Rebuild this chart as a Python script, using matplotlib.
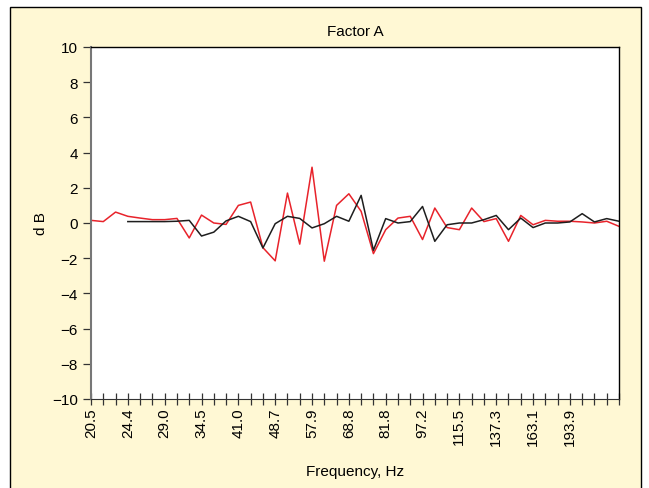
import matplotlib
matplotlib.use("Agg")
import matplotlib.pyplot as plt
from matplotlib.patches import Rectangle

plt.rcParams['font.family'] = ['Liberation Sans', 'DejaVu Sans']

# x labels shown every third band (1/12-octave bands, 44 bands)
freq_labels = ["20.5", "24.4", "29.0", "34.5", "41.0", "48.7", "57.9",
               "68.8", "81.8", "97.2", "115.5", "137.3", "163.1", "193.9"]
n_bands = 44

red_vals = [0.15, 0.08, 0.62, 0.38, 0.28, 0.19, 0.19, 0.26, -0.85, 0.45,
            0.0, -0.08, 1.0, 1.19, -1.4, -2.15, 1.7, -1.2, 3.17, -2.17,
            1.0, 1.66, 0.66, -1.74, -0.38, 0.28, 0.38, -0.94, 0.85, -0.26,
            -0.38, 0.85, 0.08, 0.25, -1.04, 0.43, -0.1, 0.15, 0.1, 0.1,
            0.06, 0.0, 0.1, -0.19]
black_start = 3
black_vals = [0.08, 0.08, 0.08, 0.08, 0.1, 0.15, -0.74, -0.52,
              0.12, 0.38, 0.08, -1.42, -0.04, 0.38, 0.26, -0.28, -0.04,
              0.38, 0.1, 1.57, -1.55, 0.25, 0.0, 0.08, 0.94, -1.04, -0.1,
              0.0, 0.0, 0.19, 0.43, -0.38, 0.28, -0.26, 0.0, 0.0, 0.06,
              0.53, 0.06, 0.25, 0.1]

cream = '#FFF8D4'
fig = plt.figure(figsize=(6.49, 4.89), dpi=100)
fig.patch.set_facecolor('white')
fig.patches.append(Rectangle((10/649, -0.02), 631/649, (489-8)/489 + 0.02,
                             transform=fig.transFigure, facecolor=cream,
                             edgecolor='black', lw=1.0, zorder=-10))

ax = fig.add_axes([91/649, (489-400)/489, 528/649, 352/489])
ax.set_facecolor('white')

xr = list(range(n_bands))
xb = list(range(black_start, black_start + len(black_vals)))
ax.plot(xr, red_vals, color='#E8232B', lw=1.1)
ax.plot(xb, black_vals, color='#1E1E1E', lw=1.1)

ax.set_xlim(0, n_bands - 1)
ax.set_ylim(-10, 10)
ax.set_yticks(range(-10, 11, 2))
ax.set_yticklabels([str(v).replace('-', '\u2212') for v in range(-10, 11, 2)])
ax.set_xticks(range(n_bands))
labels = [''] * n_bands
for k, lab in enumerate(freq_labels):
    labels[3 * k] = lab
ax.set_xticklabels(labels, rotation=90)

ax.tick_params(axis='x', direction='inout', length=8, width=0.9, labelsize=11,
               pad=2, color='#333333')
ax.tick_params(axis='y', direction='out', length=6, width=0.9, labelsize=11,
               color='#333333')
for s in ['top', 'right']:
    ax.spines[s].set_color('black')
    ax.spines[s].set_linewidth(1.0)
ax.spines['left'].set_color('#777777')
ax.spines['left'].set_linewidth(1.5)
ax.spines['bottom'].set_color('#333333')

ax.set_title('Factor A', fontsize=11, pad=9)
ax.set_ylabel('d B', fontsize=11, labelpad=3)
ax.set_xlabel('Frequency, Hz', fontsize=11, labelpad=13)

fig.savefig('out.png', dpi=100, facecolor=fig.get_facecolor())
